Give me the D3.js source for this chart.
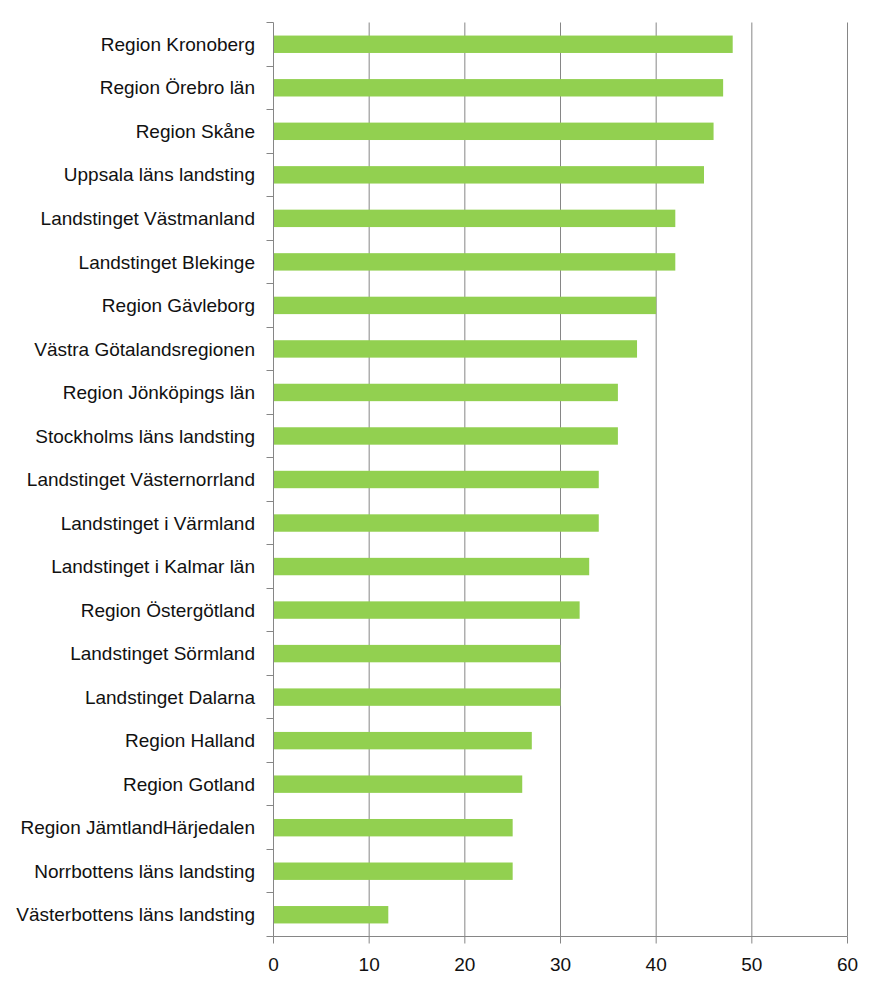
<!DOCTYPE html>
<html><head><meta charset="utf-8">
<script src="https://cdn.jsdelivr.net/npm/d3@7"></script>
<style>body{margin:0;background:#fff;} svg{display:block;}</style>
</head><body>
<svg id="c" width="881" height="989"></svg>
<script>
const categories = ["Region Kronoberg","Region Örebro län","Region Skåne","Uppsala läns landsting","Landstinget Västmanland","Landstinget Blekinge","Region Gävleborg","Västra Götalandsregionen","Region Jönköpings län","Stockholms läns landsting","Landstinget Västernorrland","Landstinget i Värmland","Landstinget i Kalmar län","Region Östergötland","Landstinget Sörmland","Landstinget Dalarna","Region Halland","Region Gotland","Region JämtlandHärjedalen","Norrbottens läns landsting","Västerbottens läns landsting"];
const values = [48,47,46,45,42,42,40,38,36,36,34,34,33,32,30,30,27,26,25,25,12];
const xTicks = [0,10,20,30,40,50,60];

(function(){
const svg = d3.select("#c");
const pL = 273.5, pR = 847.5, pT = 22.5, pB = 936.5;
const x = d3.scaleLinear().domain([0,60]).range([pL,pR]);
const y = d3.scaleBand().domain(categories).range([pT,pB]).paddingInner(0.6).paddingOuter(0.3);
const yb = d3.scaleBand().domain(categories).range([pT,pB]);
const grid = "#868686";
const font = "'Liberation Sans', Arial, sans-serif";

svg.append("g").selectAll("line").data(xTicks.slice(1)).join("line")
  .attr("x1",d=>x(d)).attr("x2",d=>x(d)).attr("y1",pT).attr("y2",pB)
  .attr("stroke",grid).attr("stroke-width",1);

svg.append("g").selectAll("rect").data(values).join("rect")
  .attr("x",x(0)).attr("y",(d,i)=>y(categories[i]))
  .attr("width",d=>x(d)-x(0)).attr("height",y.bandwidth())
  .attr("fill","#92D050");

const yAxis = svg.append("g").attr("transform",`translate(${pL},0)`);
yAxis.append("line").attr("x1",0).attr("x2",0).attr("y1",pT).attr("y2",pB).attr("stroke",grid);
const ybounds = categories.map(c=>yb(c)).concat([pB]);
yAxis.selectAll("line.t").data(ybounds).join("line").attr("class","t")
  .attr("x1",-7).attr("x2",0).attr("y1",d=>Math.round(d-0.5)+0.5).attr("y2",d=>Math.round(d-0.5)+0.5).attr("stroke",grid);
yAxis.selectAll("text").data(categories).join("text")
  .attr("x",-18.5).attr("y",d=>yb(d)+yb.bandwidth()/2).attr("dy","0.35em")
  .attr("text-anchor","end").attr("font-family",font).attr("font-size",19).attr("fill","#111")
  .text(d=>d);

const xAxis = svg.append("g").attr("transform",`translate(0,${pB})`);
xAxis.append("line").attr("x1",pL).attr("x2",pR).attr("stroke",grid);
xAxis.selectAll("line.t").data(xTicks).join("line").attr("class","t")
  .attr("x1",d=>x(d)).attr("x2",d=>x(d)).attr("y1",0).attr("y2",7).attr("stroke",grid);
xAxis.selectAll("text").data(xTicks).join("text")
  .attr("x",d=>x(d)).attr("y",27.5).attr("dy","0.35em").attr("text-anchor","middle")
  .attr("font-family",font).attr("font-size",19).attr("fill","#111").text(d=>d);
})();
</script>
</body></html>
